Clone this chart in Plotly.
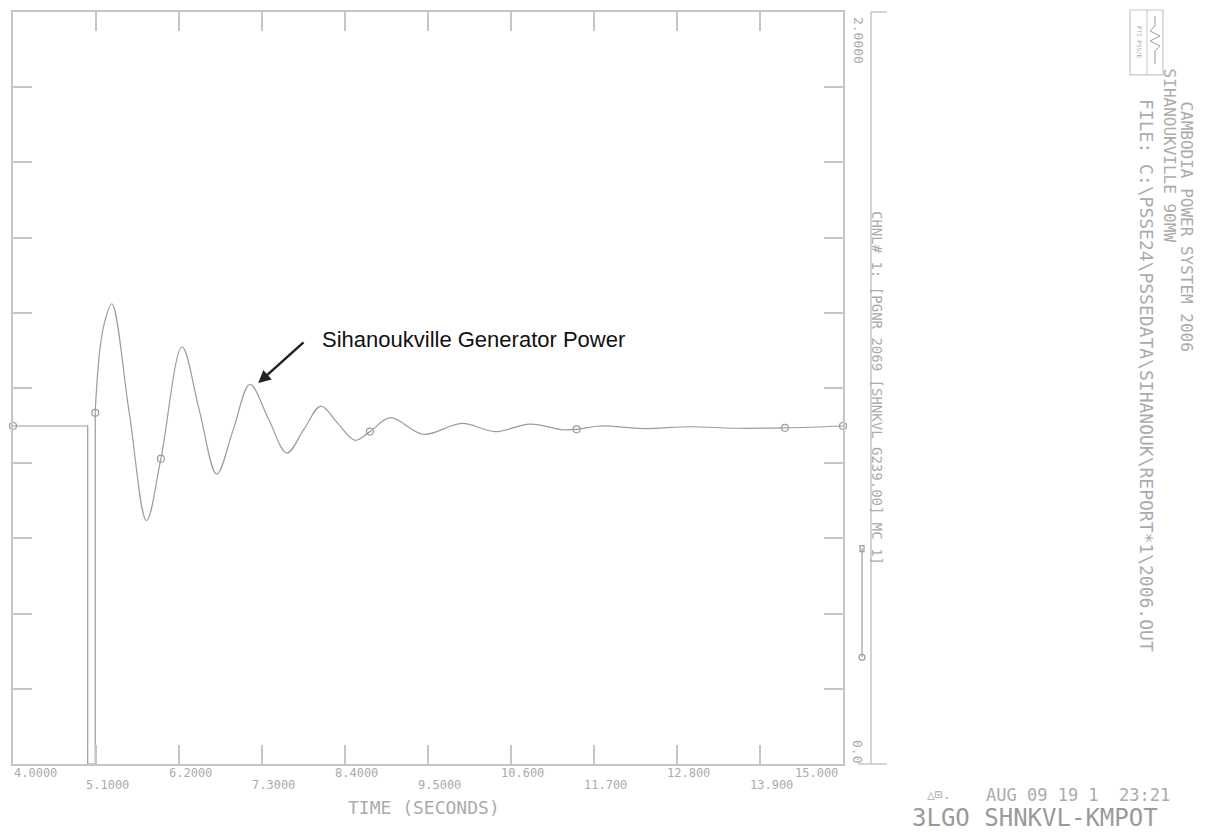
import plotly.graph_objects as go

# ---------------- data ----------------
# pre-fault level, fault (power drops to zero), clearing
pre_t = [4.0, 4.99, 4.99, 5.09, 5.09]
pre_v = [0.899, 0.899, 0.0, 0.0, 0.94]

# post-fault oscillation of generator power (pu)
post_t = [5.09, 5.15, 5.22, 5.31, 5.54, 5.77, 5.96, 6.24, 6.47, 6.70, 6.92, 7.14,
          7.385, 7.63, 7.855, 8.08, 8.305, 8.53, 8.73, 9.00, 9.44, 9.95, 10.39,
          10.85, 11.29, 11.47, 11.78, 12.35, 12.97, 13.57, 14.23, 15.0]
post_v = [0.94, 1.10, 1.18, 1.224, 0.935, 0.647, 0.812, 1.109, 0.94, 0.771, 0.89, 1.010,
          0.918, 0.827, 0.89, 0.952, 0.906, 0.861, 0.884, 0.921, 0.877, 0.906, 0.884,
          0.904, 0.889, 0.890, 0.899, 0.892, 0.897, 0.893, 0.894, 0.899]

# plot symbols placed along the curve
sym_t = [4.0, 5.09, 5.96, 8.73, 11.47, 14.23, 15.0]
sym_v = [0.899, 0.934, 0.812, 0.884, 0.890, 0.894, 0.899]

xtick_vals = [4.0, 5.1, 6.2, 7.3, 8.4, 9.5, 10.6, 11.7, 12.8, 13.9, 15.0]
xtick_text = ["4.0000", "5.1000", "6.2000", "7.3000", "8.4000", "9.5000",
              "10.600", "11.700", "12.800", "13.900", "15.000"]
ytick_vals = [0.0, 0.2, 0.4, 0.6, 0.8, 1.0, 1.2, 1.4, 1.6, 1.8, 2.0]
ymax_label = "2.0000"
ymin_label = "0.0"

channel_text = "CHNL# 1: [PGNR 2069 [SHNKVL G239.00] MC 1]"
title_lines = ["CAMBODIA POWER SYSTEM 2006", "SIHANOUKVILLE 90MW"]
file_text = "FILE: C:\\PSSE24\\PSSEDATA\\SIHANOUK\\REPORT*1\\2006.OUT"
date_text = "AUG 09 19 1  23:21"
case_text = "3LGO SHNKVL-KMPOT"
callout_text = "Sihanoukville Generator Power"

# ---------------- layout helpers ----------------
W, H = 1208, 834
L, R, T, B = 13, 843, 10, 764          # plot box in pixels


def px(x):
    return (x - L) / (R - L)


def py(y):
    return (B - y) / (B - T)


GRAY = "#9c9c9c"
AX = "#c6c6c6"
TXT = "#ababab"
MONO = "DejaVu Sans Mono"

fig = go.Figure()
fig.add_trace(go.Scatter(x=pre_t, y=pre_v, mode="lines",
                         line=dict(color=GRAY, width=1.2), hoverinfo="skip",
                         showlegend=False))
fig.add_trace(go.Scatter(x=post_t, y=post_v, mode="lines",
                         line=dict(color=GRAY, width=1.2, shape="spline", smoothing=1.0),
                         showlegend=False))
fig.add_trace(go.Scatter(x=sym_t, y=sym_v, mode="markers",
                         marker=dict(symbol="circle-open", size=7, color=GRAY,
                                     line=dict(color=GRAY, width=1.2)),
                         cliponaxis=False, showlegend=False))

axis_common = dict(showline=True, linecolor=AX, linewidth=1.5, mirror="ticks",
                   ticks="inside", ticklen=19, tickcolor=AX, tickwidth=1.5,
                   showticklabels=False, showgrid=False, zeroline=False)

fig.update_layout(
    width=W, height=H,
    margin=dict(l=L, r=W - R, t=T, b=H - B),
    paper_bgcolor="white", plot_bgcolor="white",
    xaxis=dict(range=[xtick_vals[0], xtick_vals[-1]], tickvals=xtick_vals, **axis_common),
    yaxis=dict(range=[ytick_vals[0], ytick_vals[-1]], tickvals=ytick_vals, **axis_common),
    showlegend=False,
)

ann = []
# x tick labels on two staggered rows
n = len(xtick_vals)
for i, (v, t) in enumerate(zip(xtick_vals, xtick_text)):
    shift = 22 if i == 0 else (-27 if i == n - 1 else 11)
    ann.append(dict(x=v, xref="x", y=0, yref="paper", text=t, showarrow=False,
                    xanchor="center", yanchor="middle", xshift=shift,
                    yshift=-9 if i % 2 == 0 else -21,
                    font=dict(family=MONO, size=12, color=TXT)))

ann.append(dict(x=px(424), y=py(808), xref="paper", yref="paper", text="TIME (SECONDS)",
                showarrow=False, xanchor="center", yanchor="middle",
                font=dict(family=MONO, size=18, color=TXT)))

# channel axis labels (rotated)
ann.append(dict(x=px(858), y=py(38), xref="paper", yref="paper", text=ymax_label,
                showarrow=False, textangle=90, xanchor="center", yanchor="middle",
                font=dict(family=MONO, size=13, color=TXT)))
ann.append(dict(x=px(858), y=py(751), xref="paper", yref="paper", text=ymin_label,
                showarrow=False, textangle=90, xanchor="center", yanchor="middle",
                font=dict(family=MONO, size=13, color=TXT)))
ann.append(dict(x=px(877), y=py(387), xref="paper", yref="paper", text=channel_text,
                showarrow=False, textangle=90, xanchor="center", yanchor="middle",
                font=dict(family=MONO, size=14, color=TXT)))

# title block on the right (rotated)
ann.append(dict(x=px(1187), y=py(225), xref="paper", yref="paper", text=title_lines[0],
                showarrow=False, textangle=90, xanchor="center", yanchor="middle",
                font=dict(family=MONO, size=16, color=TXT)))
ann.append(dict(x=px(1169), y=py(154), xref="paper", yref="paper", text=title_lines[1],
                showarrow=False, textangle=90, xanchor="center", yanchor="middle",
                font=dict(family=MONO, size=16, color=TXT)))
ann.append(dict(x=px(1147), y=py(374), xref="paper", yref="paper", text=file_text,
                showarrow=False, textangle=90, xanchor="center", yanchor="middle",
                font=dict(family=MONO, size=18, color=TXT)))
ann.append(dict(x=px(1139), y=py(40), xref="paper", yref="paper", text="PTI PSS/E",
                showarrow=False, textangle=90, xanchor="center", yanchor="middle",
                font=dict(family=MONO, size=6, color=TXT)))

# bottom-right stamp
ann.append(dict(x=px(938), y=py(795), xref="paper", yref="paper", text="△⊡.",
                showarrow=False, xanchor="center", yanchor="middle",
                font=dict(family=MONO, size=13, color=TXT)))
ann.append(dict(x=px(1078), y=py(795), xref="paper", yref="paper", text=date_text,
                showarrow=False, xanchor="center", yanchor="middle",
                font=dict(family=MONO, size=17, color=TXT)))
ann.append(dict(x=px(1035), y=py(818), xref="paper", yref="paper", text=case_text,
                showarrow=False, xanchor="center", yanchor="middle",
                font=dict(family=MONO, size=24, color="#9a9a9a")))

# call-out
ann.append(dict(x=7.25, y=1.013, xref="x", yref="y", ax=7.87, ay=1.125,
                axref="x", ayref="y", text="", showarrow=True, arrowhead=2,
                arrowsize=1, arrowwidth=2.5, arrowcolor="#222222", standoff=0))
ann.append(dict(x=8.07, y=1.13, xref="x", yref="y", text=callout_text, showarrow=False,
                xanchor="left", yanchor="middle",
                font=dict(family="Liberation Sans, Arial", size=22, color="#111111")))

fig.update_layout(annotations=ann)

shapes = []
# channel axis line with end bars
shapes.append(dict(type="line", xref="paper", yref="paper", x0=px(871), x1=px(871),
                   y0=py(10), y1=py(764), line=dict(color=AX, width=1.5)))
shapes.append(dict(type="line", xref="paper", yref="paper", x0=px(871), x1=px(887),
                   y0=py(10), y1=py(10), line=dict(color=AX, width=1.5)))
shapes.append(dict(type="line", xref="paper", yref="paper", x0=px(858), x1=px(887),
                   y0=py(764), y1=py(764), line=dict(color=AX, width=1.5)))
# legend sample line
shapes.append(dict(type="line", xref="paper", yref="paper", x0=px(862), x1=px(862),
                   y0=py(548), y1=py(657), line=dict(color=GRAY, width=1.2)))
shapes.append(dict(type="rect", xref="paper", yref="paper", x0=px(860), x1=px(864),
                   y0=py(551), y1=py(545), line=dict(color=GRAY, width=1.2)))
shapes.append(dict(type="circle", xref="paper", yref="paper", x0=px(859), x1=px(865),
                   y0=py(660), y1=py(654), line=dict(color=GRAY, width=1.2)))
# logo box
shapes.append(dict(type="rect", xref="paper", yref="paper", x0=px(1130), x1=px(1163),
                   y0=py(73), y1=py(8), line=dict(color=AX, width=1.2)))
shapes.append(dict(type="line", xref="paper", yref="paper", x0=px(1147), x1=px(1147),
                   y0=py(73), y1=py(8), line=dict(color=AX, width=1.0)))
wave = [(1155, 14), (1155, 24), (1150, 29), (1160, 34), (1150, 39), (1160, 44),
        (1155, 49), (1155, 62)]
path = "M " + " L ".join(f"{px(a):.5f},{py(b):.5f}" for a, b in wave)
shapes.append(dict(type="path", xref="paper", yref="paper", path=path,
                   line=dict(color=GRAY, width=1.0)))
fig.update_layout(shapes=shapes)

fig.write_html("out.html")
